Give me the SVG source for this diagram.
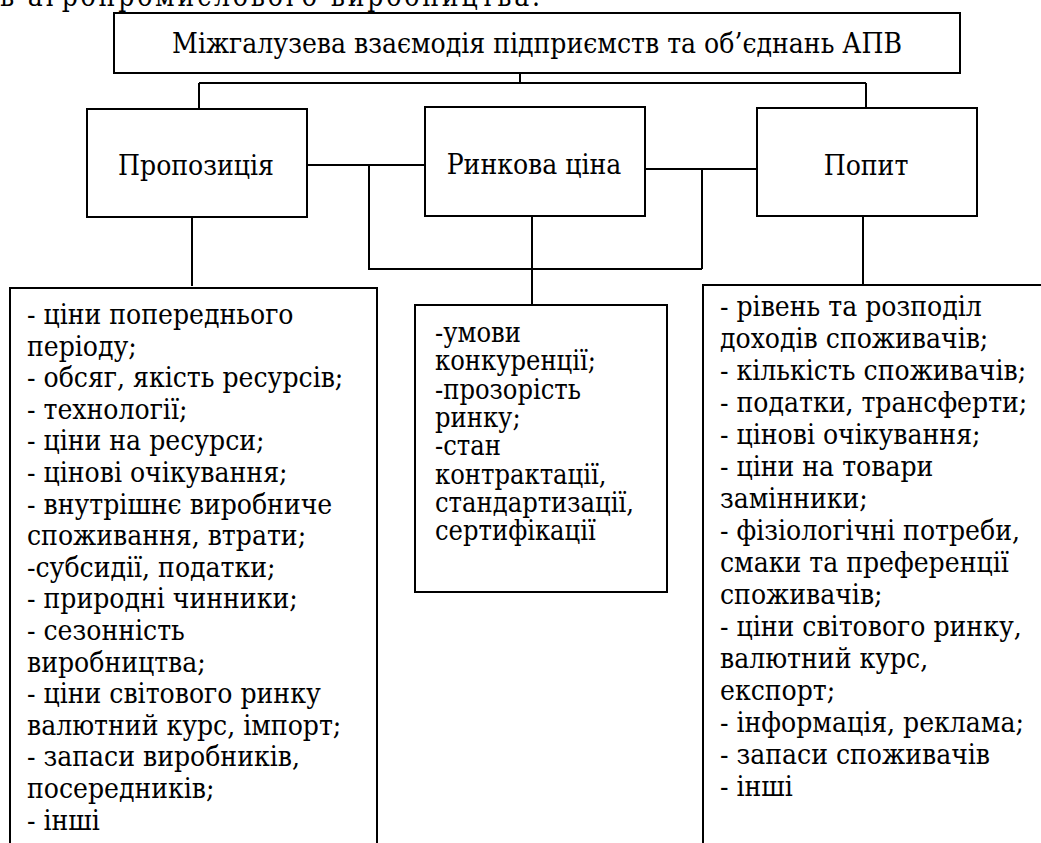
<svg xmlns="http://www.w3.org/2000/svg" width="1041" height="843" viewBox="0 0 1041 843">
<style>
.box{fill:#fff;stroke:#000;stroke-width:2}
.t{font-family:"DejaVu Serif Condensed","DejaVu Serif",serif;font-stretch:condensed;font-size:28px;fill:#000}
.m{font-size:27px}
.c{text-anchor:middle}
.ln{stroke:#000;stroke-width:2;fill:none}
</style>
<rect width="1041" height="843" fill="#fff"/>
<text class="t" x="0" y="6" textLength="540" lengthAdjust="spacing">в агропромислового виробництва.</text>
<g id="connectors">
<path class="ln" d="M520,73 V83 M199,83 H866 M199,83 V109 M866,83 V108"/>
<path class="ln" d="M307,165 H425 M369,165 V269 H702 M645,169 H757 M702,169 V269"/>
<path class="ln" d="M532,216 V305 M192,217 V286 M863,216 V285"/>
</g>
<g id="top">
<rect class="box" x="114" y="13" width="846" height="60"/>
<text class="t c" x="537" y="53">Міжгалузева взаємодія підприємств та об’єднань АПВ</text>
</g>
<g id="propozytsiia">
<rect class="box" x="87" y="109" width="220" height="108"/>
<text class="t c" x="196" y="175">Пропозиція</text>
</g>
<g id="rynkova-tsina">
<rect class="box" x="425" y="107" width="220" height="109"/>
<text class="t c" x="534" y="174">Ринкова ціна</text>
</g>
<g id="popyt">
<rect class="box" x="757" y="108" width="220" height="108"/>
<text class="t c" x="866" y="175">Попит</text>
</g>
<g id="left-list">
<rect class="box" x="10" y="288" width="367" height="570"/>
<text class="t" x="27" y="324">
<tspan x="27" dy="0">- ціни попереднього</tspan>
<tspan x="27" dy="31.6">періоду;</tspan>
<tspan x="27" dy="31.6">- обсяг, якість ресурсів;</tspan>
<tspan x="27" dy="31.6">- технології;</tspan>
<tspan x="27" dy="31.6">- ціни на ресурси;</tspan>
<tspan x="27" dy="31.6">- цінові очікування;</tspan>
<tspan x="27" dy="31.6">- внутрішнє виробниче</tspan>
<tspan x="27" dy="31.6">споживання, втрати;</tspan>
<tspan x="27" dy="31.6">-субсидії, податки;</tspan>
<tspan x="27" dy="31.6">- природні чинники;</tspan>
<tspan x="27" dy="31.6">- сезонність</tspan>
<tspan x="27" dy="31.6">виробництва;</tspan>
<tspan x="27" dy="31.6">- ціни світового ринку</tspan>
<tspan x="27" dy="31.6">валютний курс, імпорт;</tspan>
<tspan x="27" dy="31.6">- запаси виробників,</tspan>
<tspan x="27" dy="31.6">посередників;</tspan>
<tspan x="27" dy="31.6">- інші</tspan>
</text>
</g>
<g id="middle-list">
<rect class="box" x="415" y="305" width="252" height="287"/>
<text class="t m" x="435" y="342">
<tspan x="435" dy="0">-умови</tspan>
<tspan x="435" dy="28.3">конкуренції;</tspan>
<tspan x="435" dy="28.3">-прозорість</tspan>
<tspan x="435" dy="28.3">ринку;</tspan>
<tspan x="435" dy="28.3">-стан</tspan>
<tspan x="435" dy="28.3">контрактації,</tspan>
<tspan x="435" dy="28.3">стандартизації,</tspan>
<tspan x="435" dy="28.3">сертифікації</tspan>
</text>
</g>
<g id="right-list">
<rect class="box" x="703" y="285" width="360" height="580"/>
<text class="t" x="720" y="316">
<tspan x="720" dy="0">- рівень та розподіл</tspan>
<tspan x="720" dy="32">доходів споживачів;</tspan>
<tspan x="720" dy="32">- кількість споживачів;</tspan>
<tspan x="720" dy="32">- податки, трансферти;</tspan>
<tspan x="720" dy="32">- цінові очікування;</tspan>
<tspan x="720" dy="32">- ціни на товари</tspan>
<tspan x="720" dy="32">замінники;</tspan>
<tspan x="720" dy="32">- фізіологічні потреби,</tspan>
<tspan x="720" dy="32">смаки та преференції</tspan>
<tspan x="720" dy="32">споживачів;</tspan>
<tspan x="720" dy="32">- ціни світового ринку,</tspan>
<tspan x="720" dy="32">валютний курс,</tspan>
<tspan x="720" dy="32">експорт;</tspan>
<tspan x="720" dy="32">- інформація, реклама;</tspan>
<tspan x="720" dy="32">- запаси споживачів</tspan>
<tspan x="720" dy="32">- інші</tspan>
</text>
</g>
</svg>
